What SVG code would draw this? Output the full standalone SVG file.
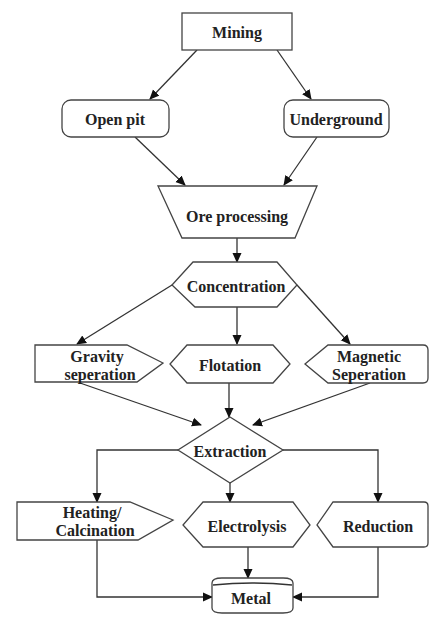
<svg xmlns="http://www.w3.org/2000/svg" width="430" height="618" viewBox="0 0 430 618">
<defs>
<style>
.n{fill:#fff;stroke:#444;stroke-width:1.3}
.t{font-family:"Liberation Serif","Times New Roman",serif;font-weight:bold;font-size:16px;fill:#222;text-anchor:middle;dominant-baseline:central}
.c{fill:none;stroke:#333;stroke-width:1.3}
</style>
<marker id="a" markerWidth="10" markerHeight="10" refX="9" refY="5" orient="auto" markerUnits="userSpaceOnUse">
<path d="M0,0.5 L10,5 L0,9.5 Z" fill="#111"/>
</marker>
</defs>
<rect width="430" height="618" fill="#fff"/>
<g id="connectors">
<path class="c" d="M197,50 L150,99" marker-end="url(#a)"/>
<path class="c" d="M277,50 L311,99" marker-end="url(#a)"/>
<path class="c" d="M135,137 L185,185" marker-end="url(#a)"/>
<path class="c" d="M317,137 L284,185" marker-end="url(#a)"/>
<path class="c" d="M237,238 L237,262" marker-end="url(#a)"/>
<path class="c" d="M172,285 L77,344" marker-end="url(#a)"/>
<path class="c" d="M237,307 L237,344" marker-end="url(#a)"/>
<path class="c" d="M297,285 L350,344" marker-end="url(#a)"/>
<path class="c" d="M80,383 L201,425" marker-end="url(#a)"/>
<path class="c" d="M229,383 L229,417" marker-end="url(#a)"/>
<path class="c" d="M370,383 L253,425" marker-end="url(#a)"/>
<path class="c" d="M178,450 L97,450 L97,502" marker-end="url(#a)"/>
<path class="c" d="M230,483 L230,502" marker-end="url(#a)"/>
<path class="c" d="M283,450 L378,450 L378,502" marker-end="url(#a)"/>
<path class="c" d="M248,547 L248,578" marker-end="url(#a)"/>
<path class="c" d="M97,540 L97,597 L212,597" marker-end="url(#a)"/>
<path class="c" d="M378,547 L378,597 L293,597" marker-end="url(#a)"/>
</g>
<g id="mining">
<rect class="n" x="182" y="13" width="110" height="37"/>
<text class="t" x="237" y="32">Mining</text>
</g>
<g id="openpit">
<rect class="n" x="62" y="100" width="107" height="37" rx="9"/>
<text class="t" x="115" y="119">Open pit</text>
</g>
<g id="underground">
<rect class="n" x="284" y="100" width="105" height="37" rx="9"/>
<text class="t" x="336" y="119">Underground</text>
</g>
<g id="oreprocessing">
<path class="n" d="M158,186 L317,186 L295,238 L182,238 Z"/>
<text class="t" x="237" y="216">Ore processing</text>
</g>
<g id="concentration">
<path class="n" d="M193,262 L277,262 L297,285 L277,307 L195,307 L172,285 Z"/>
<text class="t" x="236" y="286">Concentration</text>
</g>
<g id="gravity">
<path class="n" d="M35,345 L127,345 L163,363 L137,382 L35,382 Z"/>
<text class="t" x="97" y="356">Gravity</text>
<text class="t" x="100" y="374">seperation</text>
</g>
<g id="flotation">
<path class="n" d="M187,345 L273,345 L290,364 L273,383 L187,383 L170,364 Z"/>
<text class="t" x="230" y="365">Flotation</text>
</g>
<g id="magnetic">
<path class="n" d="M328,345 L423,345 Q428,345 428,350 L428,378 Q428,383 423,383 L328,383 L305,364 Z"/>
<text class="t" x="369" y="356">Magnetic</text>
<text class="t" x="369" y="374">Seperation</text>
</g>
<g id="extraction">
<path class="n" d="M230,417 L283,450 L230,483 L178,450 Z"/>
<text class="t" x="230" y="451">Extraction</text>
</g>
<g id="heating">
<path class="n" d="M17,502 L130,502 L173,520 L138,540 L17,540 Z"/>
<text class="t" x="92" y="512">Heating/</text>
<text class="t" x="95" y="530">Calcination</text>
</g>
<g id="electrolysis">
<path class="n" d="M203,502 L293,502 L310,525 L293,547 L203,547 L183,525 Z"/>
<text class="t" x="247" y="526">Electrolysis</text>
</g>
<g id="reduction">
<path class="n" d="M333,502 L424,502 Q428,502 428,506 L428,543 Q428,547 424,547 L333,547 L317,525 Z"/>
<text class="t" x="378" y="526">Reduction</text>
</g>
<g id="metal">
<path class="n" d="M212,583 Q212,578 222,578 L283,578 Q293,578 293,583 L293,608 Q293,613 283,613 L222,613 Q212,613 212,608 Z"/>
<path class="c" d="M213,585 Q252,581 292,585"/>
<text class="t" x="251" y="598">Metal</text>
</g>
</svg>
